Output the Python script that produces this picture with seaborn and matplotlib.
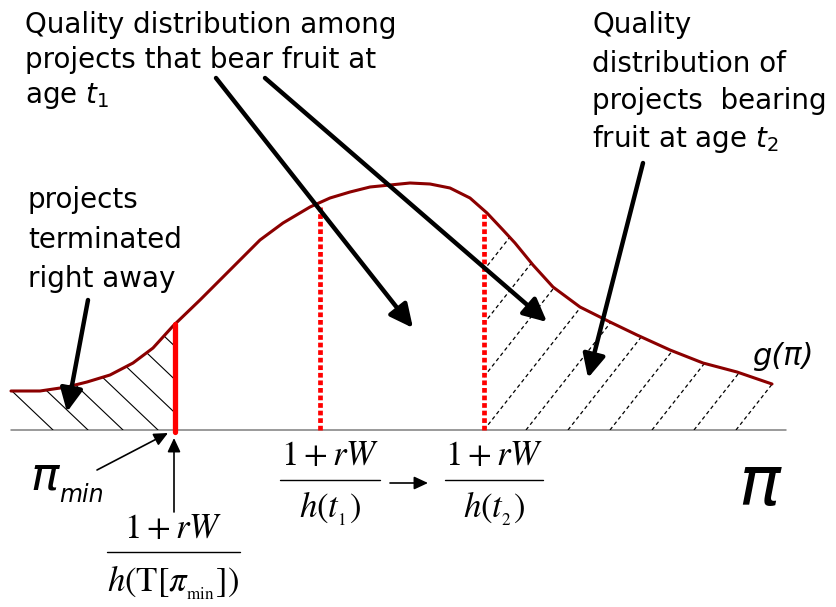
import numpy as np
import matplotlib
matplotlib.use("Agg")
import matplotlib.pyplot as plt
from matplotlib.patches import Polygon
import seaborn as sns

# Quality axis (pi) and density g(pi), height above the baseline
pi_grid = [11, 40, 67, 87, 110, 133, 153, 173, 200, 233, 260, 283, 310, 330,
           350, 370, 390, 410, 430, 450, 470, 487, 503, 515, 533, 553, 580,
           610, 637, 670, 703, 737, 772]
g_density = [39, 39, 43, 48, 55, 67, 82, 104, 130, 163, 190, 207, 223, 232,
             238, 243, 245, 247, 246, 242, 232, 217, 200, 187, 165, 143, 123,
             108, 95, 80, 67, 58, 46]

# Cut-off qualities
pi_min = 175
pi_t1 = 320
pi_t2 = 484

sns.set_theme(style="white")
plt.rcParams["font.family"] = ["DejaVu Sans"]
plt.rcParams["mathtext.fontset"] = "dejavusans"
plt.rcParams["text.color"] = "black"

fig = plt.figure(figsize=(8.36, 6.07), dpi=100)
ax = fig.add_axes([0, 0, 1, 1])
ax.set_xlim(0, 836)
ax.set_ylim(-177, 430)
ax.set_axis_off()

x = np.array(pi_grid, dtype=float)
g = np.array(g_density, dtype=float)

# baseline (pi axis)
ax.plot([11, 786], [0, 0], color="#7f7f7f", lw=1.1, zorder=1)

# hatched region: projects terminated right away
mask_l = x <= pi_min
left_x = np.r_[x[mask_l], pi_min]
left_y = np.r_[g[mask_l], np.interp(pi_min, x, g)]
left_poly = Polygon(np.c_[np.r_[left_x, pi_min, left_x[0]],
                          np.r_[left_y, 0, 0]], closed=True,
                    facecolor="none", edgecolor="none")
ax.add_patch(left_poly)
for x0 in np.arange(53, 300, 35):
    ln, = ax.plot([x0 - 300, x0], [300 * 0.95, 0], color="black", lw=0.8, zorder=2)
    ln.set_clip_path(left_poly)

# hatched region: projects bearing fruit at age t2
mask_r = x >= pi_t2
right_x = np.r_[pi_t2, x[mask_r]]
right_y = np.r_[np.interp(pi_t2, x, g), g[mask_r]]
right_poly = Polygon(np.c_[np.r_[right_x, right_x[-1], pi_t2],
                           np.r_[right_y, 0, 0]], closed=True,
                     facecolor="none", edgecolor="none")
ax.add_patch(right_poly)
for x0 in np.arange(358, 800, 42):
    ln, = ax.plot([x0, x0 + 250], [0, 250 * 1.27], color="black", lw=0.9,
                  dashes=(3, 2.4), zorder=2)
    ln.set_clip_path(right_poly)

# density curve
sns.lineplot(x=x, y=g, ax=ax, color="#8b0000", lw=2.2, zorder=4,
             estimator=None, sort=False)

# cut-off markers
ax.plot([pi_min, pi_min], [-2, np.interp(pi_min, x, g)], color="#ff0000",
        lw=3.8, solid_capstyle="round", zorder=5)
for c in (pi_t1, pi_t2):
    ax.plot([c, c], [0, np.interp(c, x, g) - 4], color="#ff0000", lw=3.4,
            dashes=(1.0, 0.6), dash_capstyle="butt", zorder=5)

# text labels
tkw = dict(fontsize=20, color="black", va="baseline", ha="left")
for s, yb in zip(["Quality distribution among", "projects that bear fruit at",
                  "age $t_1$"], [397, 362, 327]):
    ax.text(25, yb, s, **tkw)
for s, yb in zip(["Quality", "distribution of", "projects  bearing",
                  "fruit at age $t_2$"], [397, 358, 321, 283]):
    ax.text(592, yb, s, **tkw)
for s, yb in zip(["projects", "terminated", "right away"], [222, 182, 143]):
    ax.text(28, yb, s, **tkw)

ikw = dict(color="black", style="italic", va="baseline", ha="left")
ax.text(752, 65, "g(π)", fontsize=22, **ikw)
ax.text(30, -60, "π", fontsize=34, **ikw)
ax.text(59, -72, "min", fontsize=17, **ikw)
ax.text(738, -75, "π", fontsize=50, **ikw)

# thick annotation arrows
big = dict(arrowstyle="-|>,head_length=0.7,head_width=0.34", color="black",
           lw=3.2, mutation_scale=20, shrinkA=0, shrinkB=0)
for (x1, y1), (x2, y2) in [((88, 130), (67, 18)), ((216, 352), (413, 102)),
                           ((265, 352), (547, 108)), ((643, 267), (588, 52))]:
    ax.annotate("", xy=(x2, y2), xytext=(x1, y1), arrowprops=big, zorder=6)

# thin arrows
thin = dict(arrowstyle="-|>,head_length=0.6,head_width=0.28", color="black",
            lw=1.2, mutation_scale=14, shrinkA=0, shrinkB=0)
for (x1, y1), (x2, y2) in [((97, -40), (168, -3)), ((174, -82), (174, -8)),
                           ((390, -53), (428, -53))]:
    ax.annotate("", xy=(x2, y2), xytext=(x1, y1), arrowprops=thin, zorder=6)

# fraction labels
fkw = dict(fontsize=25, math_fontfamily="stix", color="black", ha="center",
           va="baseline")
fracs = [
    (173.5, -108, -122, -162, 107, 240, r"$h\left(\mathrm{T}\left[\pi_{_{\mathrm{min}}}\right]\right)$"),
    (330, -35, -50, -88, 280, 380, r"$h\left(t_{_1}\right)$"),
    (494, -35, -50, -88, 445, 543, r"$h\left(t_{_2}\right)$"),
]
for cx, ny, ly, dy, lx0, lx1, den in fracs:
    ax.text(cx, ny, r"$1+rW$", **fkw)
    ax.plot([lx0, lx1], [ly, ly], color="black", lw=1.0)
    ax.text(cx, dy, den, **fkw)

fig.savefig("out.png", dpi=100)
